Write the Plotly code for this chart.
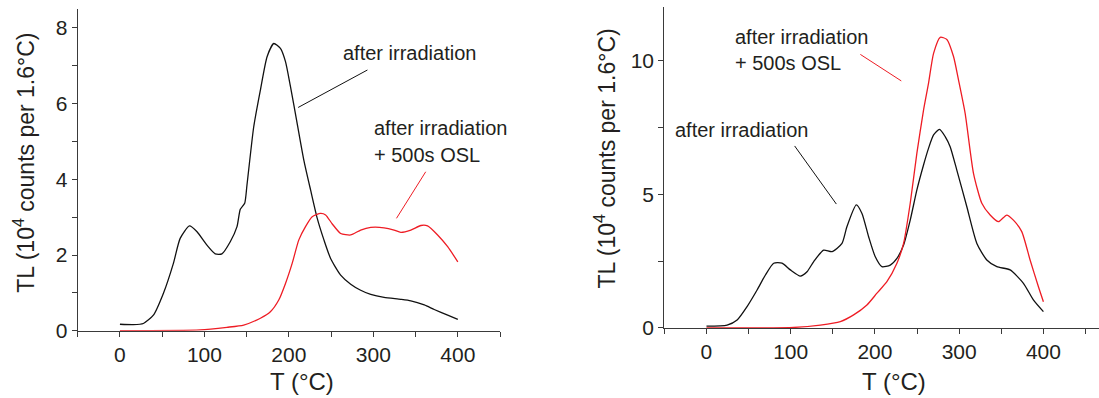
import plotly.graph_objects as go

# ---------------- data ----------------
# Left panel
left_black_T = [0, 15.8, 27.7, 39.6, 51.5, 63.3, 71.3, 82.3, 91, 103, 112.8, 120.7, 130.6, 138.6,
                142.5, 147.7, 150.4, 158.4, 166.3, 174.2, 182.1, 190, 196, 201.9, 209.8, 217.7,
                225.7, 233.6, 241.5, 249.4, 261.3, 273.2, 285, 296.9, 312.7, 332.5, 344.4, 360.3,
                372.1, 388, 400]
left_black_TL = [0.17, 0.16, 0.19, 0.41, 0.99, 1.78, 2.44, 2.77, 2.62, 2.26, 2.03, 2.03, 2.35, 2.75,
                 3.21, 3.37, 3.85, 5.39, 6.36, 7.24, 7.59, 7.46, 7.11, 6.45, 5.48, 4.51,
                 3.72, 2.97, 2.40, 1.91, 1.47, 1.23, 1.07, 0.96, 0.88, 0.83, 0.79, 0.68,
                 0.56, 0.41, 0.30]

left_red_T = [0, 95, 126.7, 146.5, 166.3, 178.1, 188, 196, 203.9, 211.8, 219.7, 227.6, 237.5, 243.5,
              251.4, 261.3, 273.2, 285, 296.9, 312.7, 324.6, 332.5, 344.4, 356.3, 364.2, 376.1,
              388, 400]
left_red_TL = [0.0, 0.02, 0.09, 0.15, 0.33, 0.50, 0.81, 1.25, 1.78, 2.40, 2.75, 3.01, 3.10, 3.06,
               2.82, 2.57, 2.53, 2.66, 2.73, 2.72, 2.66, 2.60, 2.66, 2.78, 2.77, 2.53,
               2.22, 1.82]

# Right panel
right_black_T = [0, 24.5, 36.4, 48.2, 60.1, 70, 79.8, 89.7, 99.6, 111.5, 119.4, 127.3, 139.1, 149,
                 160.9, 166.8, 177.9, 184.6, 192.5, 200.4, 208.3, 218.2, 226.1, 234, 241.9, 249.8,
                 257.7, 263.6, 269.6, 276.7, 283.4, 289.3, 297.2, 309.1, 321, 332.8, 344.7, 360.5,
                 376.3, 388.1, 400]
right_black_TL = [0.07, 0.11, 0.30, 0.80, 1.42, 1.98, 2.42, 2.42, 2.17, 1.94, 2.10, 2.48, 2.91, 2.85,
                  3.16, 3.79, 4.60, 4.28, 3.41, 2.66, 2.29, 2.35, 2.60, 3.10, 4.03, 5.16,
                  6.09, 6.71, 7.21, 7.42, 7.15, 6.77, 5.90, 4.53, 3.16, 2.54, 2.29, 2.17,
                  1.67, 1.05, 0.61]

right_red_T = [0, 64, 103.6, 135.2, 158.9, 174.7, 190.5, 202.4, 214.2, 226.1, 234, 241.9, 249.8,
               257.7, 263.6, 269.6, 277.5, 285.4, 293.3, 299.2, 307.1, 317, 326.9, 336.8, 346.6,
               356.5, 364.4, 374.3, 384.2, 394.1, 400]
right_red_TL = [0.0, 0.0, 0.02, 0.11, 0.24, 0.49, 0.86, 1.30, 1.73, 2.42, 3.16, 4.66, 6.53,
                8.14, 9.14, 10.26, 10.86, 10.78, 10.14, 9.27, 8.02, 5.78, 4.66, 4.22, 3.97,
                4.22, 4.03, 3.60, 2.54, 1.54, 0.98]

label_irr = "after irradiation"
label_osl_2 = "+ 500s OSL"
x_title = "T (°C)"
y_title = "TL (10<sup>4</sup> counts per 1.6°C)"

# ---------------- figure ----------------
BLACK = "#111111"
RED = "#ee1c24"
TEXT = "#231f20"
AXC = "#3a3a3a"
FONT = "Liberation Sans, Arial, sans-serif"

fig = go.Figure()
fig.add_trace(go.Scatter(x=left_black_T, y=left_black_TL, mode="lines",
                         line=dict(color=BLACK, width=1.3, shape="spline", smoothing=0.6),
                         xaxis="x", yaxis="y"))
fig.add_trace(go.Scatter(x=left_red_T, y=left_red_TL, mode="lines",
                         line=dict(color=RED, width=1.3, shape="spline", smoothing=0.6),
                         xaxis="x", yaxis="y"))
fig.add_trace(go.Scatter(x=right_black_T, y=right_black_TL, mode="lines",
                         line=dict(color=BLACK, width=1.3, shape="spline", smoothing=0.6),
                         xaxis="x2", yaxis="y2"))
fig.add_trace(go.Scatter(x=right_red_T, y=right_red_TL, mode="lines",
                         line=dict(color=RED, width=1.3, shape="spline", smoothing=0.6),
                         xaxis="x2", yaxis="y2"))

axis_common = dict(showgrid=False, zeroline=False, showline=True, linecolor=AXC, automargin=False,
                   linewidth=1.3, ticks="outside", ticklen=5, tickwidth=1.2, tickcolor=AXC,
                   tickfont=dict(family=FONT, size=21, color=TEXT))
minor_common = dict(ticks="outside", tick0=0, ticklen=5, tickwidth=1.2, tickcolor=AXC)

fig.update_layout(
    width=1099, height=398,
    margin=dict(l=0, r=0, t=0, b=0, autoexpand=False),
    paper_bgcolor="white", plot_bgcolor="white",
    showlegend=False,
    font=dict(family=FONT, color=TEXT),
    xaxis=dict(domain=[0.0707, 0.455], range=[-50, 450], dtick=100, tick0=0, anchor="y",
               minor=dict(dtick=50, **minor_common), **axis_common),
    yaxis=dict(domain=[0.1691, 0.9772], range=[0, 8.5], dtick=2, tick0=0, anchor="x",
               minor=dict(dtick=1, **minor_common), **axis_common),
    xaxis2=dict(domain=[0.6045, 1.0], range=[-50, 466], dtick=100, tick0=0, anchor="y2",
                minor=dict(dtick=50, **minor_common), **axis_common),
    yaxis2=dict(domain=[0.1759, 0.983], range=[0, 12], dtick=5, tick0=0, anchor="x2",
                minor=dict(dtick=2.5, **minor_common), **axis_common),
)

ann_font = dict(family=FONT, size=20, color=TEXT)
xtitle_font = dict(family=FONT, size=24, color=TEXT)
ytitle_font = dict(family=FONT, size=23, color=TEXT)

annotations = [
    # axis titles
    dict(text=x_title, xref="x", yref="paper", x=216, y=1 - 381.7 / 398, showarrow=False,
         xanchor="center", yanchor="middle", font=xtitle_font),
    dict(text=x_title, xref="x2", yref="paper", x=223, y=1 - 381.7 / 398, showarrow=False,
         xanchor="center", yanchor="middle", font=xtitle_font),
    dict(text=y_title, xref="paper", yref="y", x=24 / 1099, y=4.44, showarrow=False,
         textangle=-90, xanchor="center", yanchor="middle", font=ytitle_font),
    dict(text=y_title, xref="paper", yref="y2", x=605 / 1099, y=6.33, showarrow=False,
         textangle=-90, xanchor="center", yanchor="middle", font=ytitle_font),
    # curve labels
    dict(text=label_irr, xref="x", yref="y", x=262, y=7.34, showarrow=False,
         xanchor="left", yanchor="middle", font=ann_font),
    dict(text=label_irr, xref="x", yref="y", x=299, y=5.36, showarrow=False,
         xanchor="left", yanchor="middle", font=ann_font),
    dict(text=label_osl_2, xref="x", yref="y", x=299, y=4.64, showarrow=False,
         xanchor="left", yanchor="middle", font=ann_font),
    dict(text=label_irr, xref="x2", yref="y2", x=31.7, y=10.86, showarrow=False,
         xanchor="left", yanchor="middle", font=ann_font),
    dict(text=label_osl_2, xref="x2", yref="y2", x=31.7, y=9.89, showarrow=False,
         xanchor="left", yanchor="middle", font=ann_font),
    dict(text=label_irr, xref="x2", yref="y2", x=-39.5, y=7.40, showarrow=False,
         xanchor="left", yanchor="middle", font=ann_font),
]
fig.update_layout(annotations=annotations)

# leader lines from labels to curves
fig.add_shape(type="line", xref="x", yref="y", x0=293, y0=6.89, x1=211, y1=5.90,
              line=dict(color=BLACK, width=1))
fig.add_shape(type="line", xref="x", yref="y", x0=362, y0=4.20, x1=327.4, y1=2.97,
              line=dict(color=RED, width=1))
fig.add_shape(type="line", xref="x2", yref="y2", x0=182.7, y0=10.22, x1=231.3, y1=9.23,
              line=dict(color=RED, width=1))
fig.add_shape(type="line", xref="x2", yref="y2", x0=104.7, y0=6.80, x1=154.2, y1=4.63,
              line=dict(color=BLACK, width=1))

fig.write_html("out.html")
